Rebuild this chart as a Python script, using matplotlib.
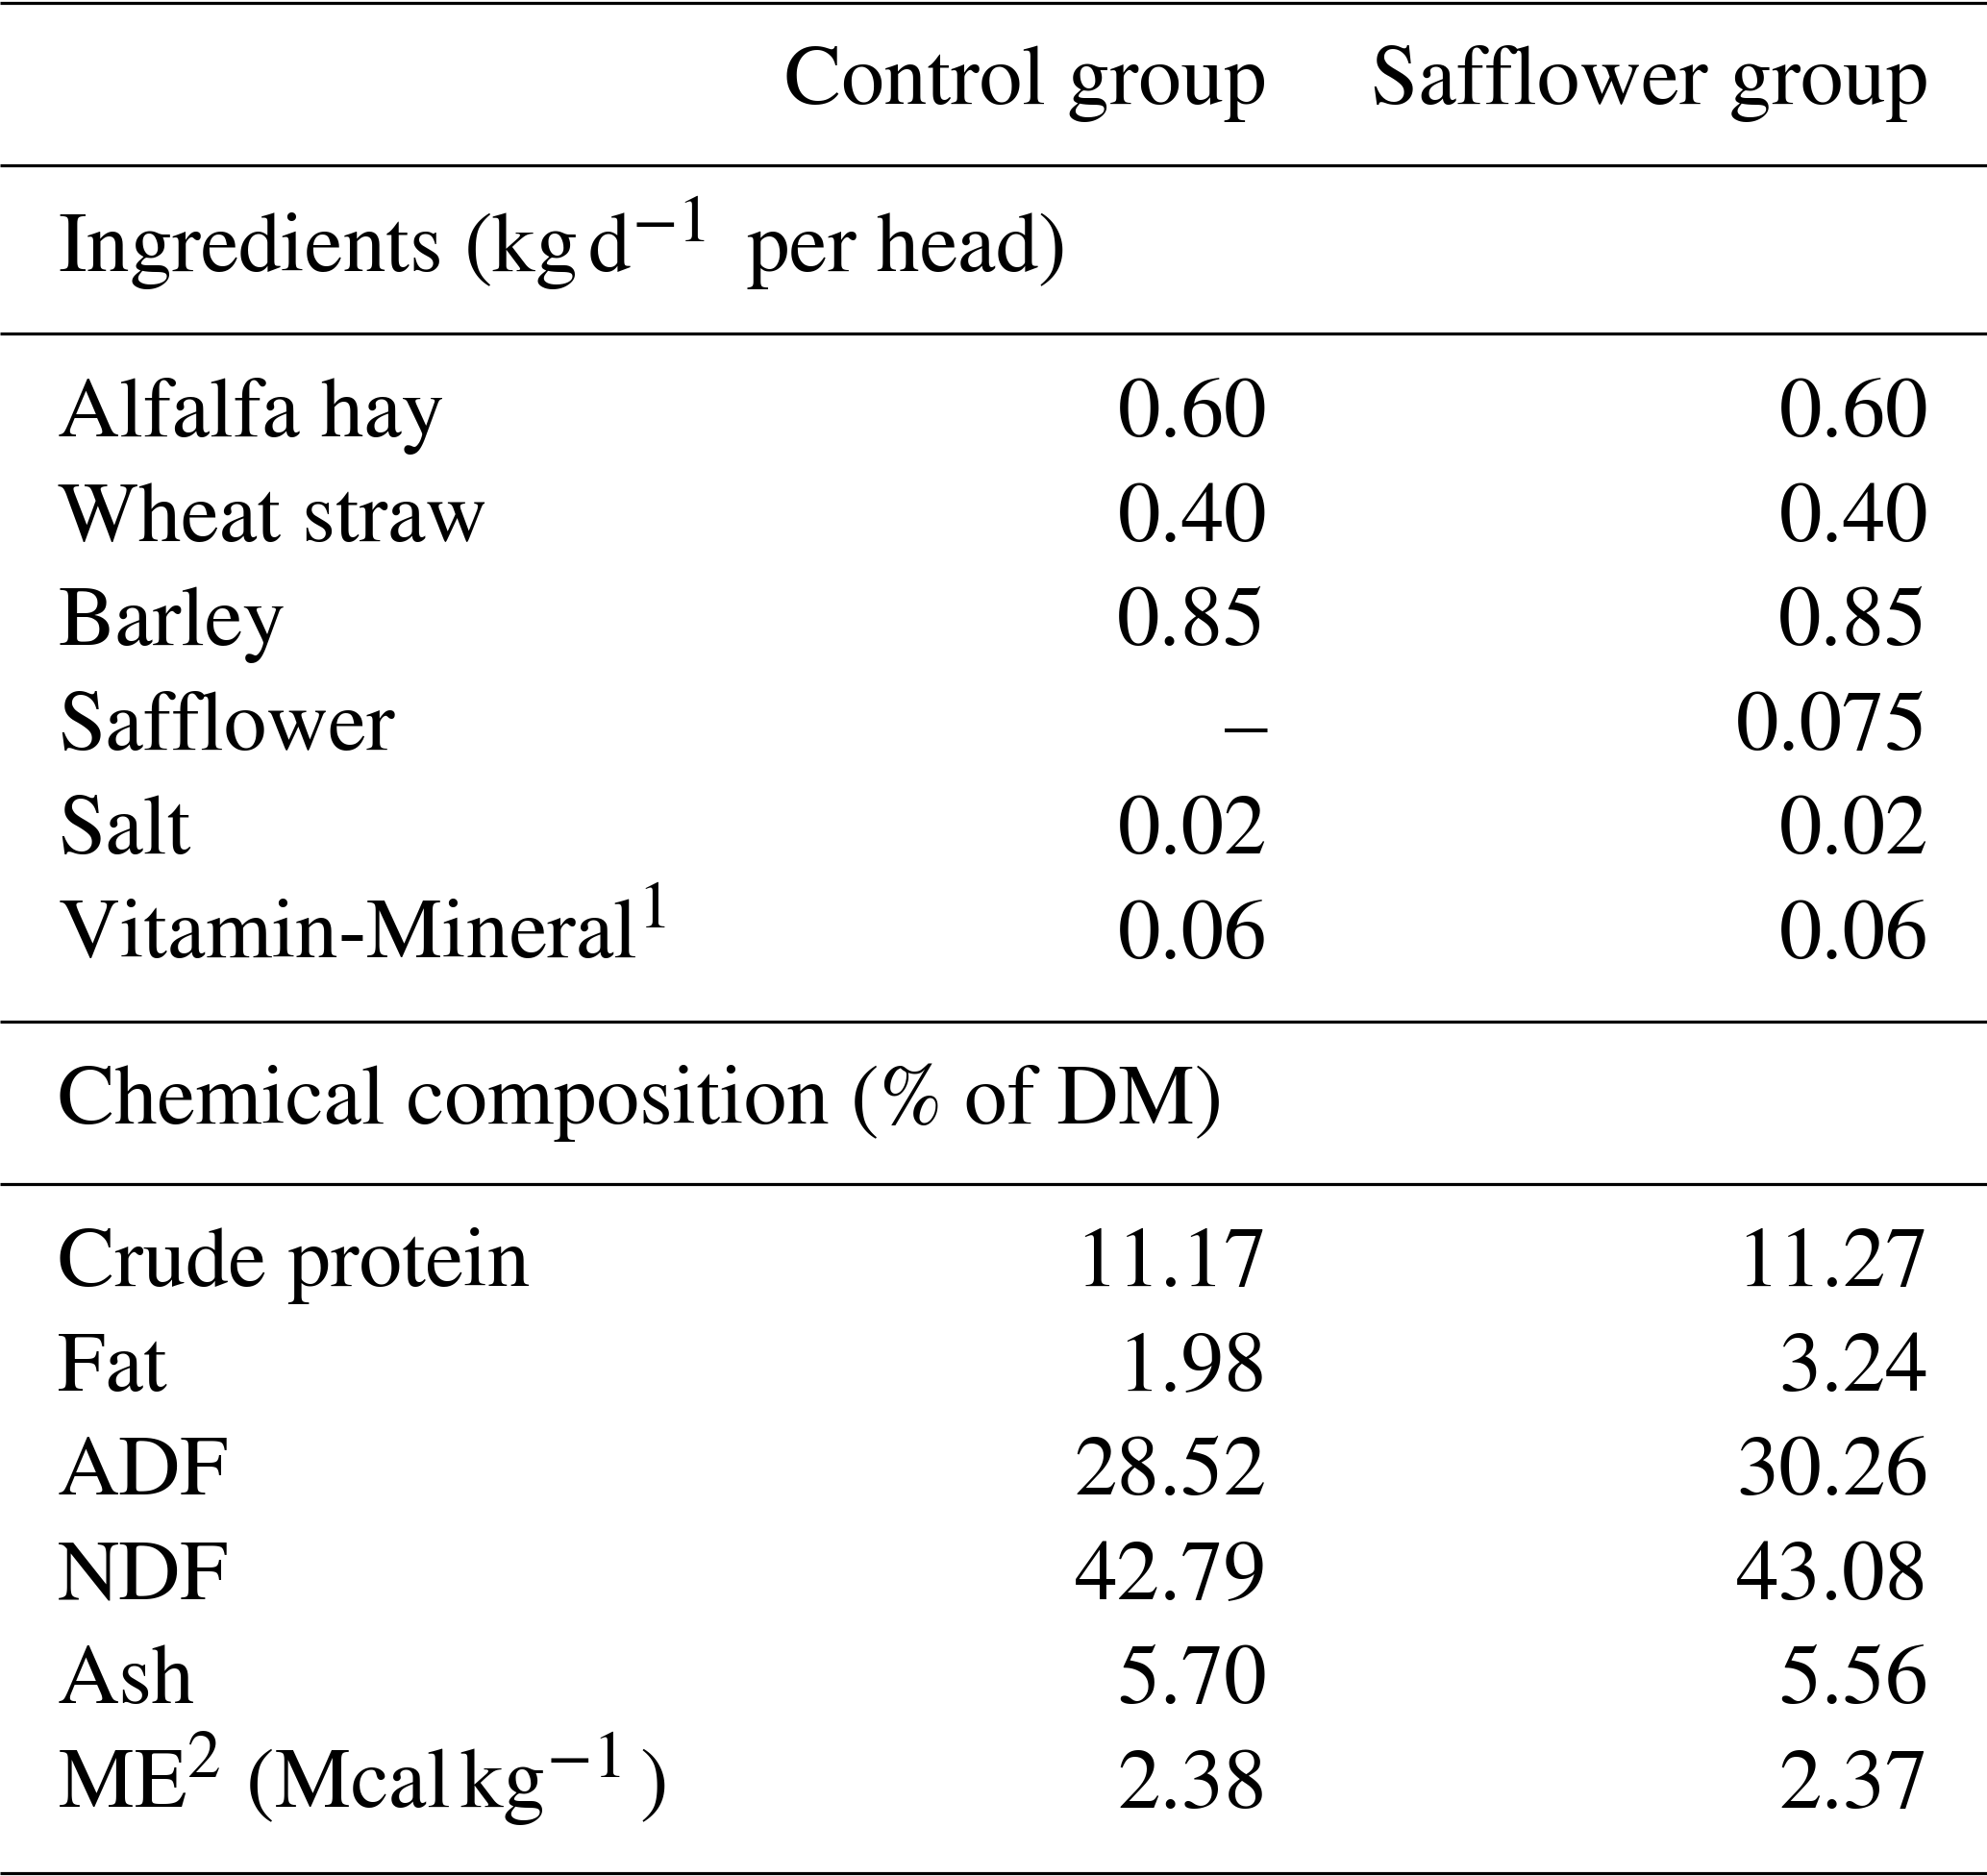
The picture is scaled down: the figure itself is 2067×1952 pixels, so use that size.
import matplotlib
matplotlib.use("Agg")
import matplotlib.pyplot as plt
import matplotlib._mathtext as _mt

# LaTeX-like larger scripts
_mt.SHRINK_FACTOR = 0.78

plt.rcParams['font.family'] = ['STIXGeneral', 'DejaVu Serif']
plt.rcParams['mathtext.fontset'] = 'stix'

# ---- data ----
col_headers = ["Control group", "Safflower group"]
section1_title = r"Ingredients (kg$\,$d$^{-1}\,$ per head)"
ingredients = ["Alfalfa hay", "Wheat straw", "Barley", "Safflower", "Salt",
               r"Vitamin-Mineral$^{1}$"]
ing_control = ["0.60", "0.40", "0.85", "\u2013", "0.02", "0.06"]
ing_safflower = ["0.60", "0.40", "0.85", "0.075", "0.02", "0.06"]
section2_title = "Chemical composition (% of DM)"
chem = ["Crude protein", "Fat", "ADF", "NDF", "Ash",
        r"ME$^{2}$ (Mcal$\,$kg$^{-1}\,$)"]
chem_control = ["11.17", "1.98", "28.52", "42.79", "5.70", "2.38"]
chem_safflower = ["11.27", "3.24", "30.26", "43.08", "5.56", "2.37"]

# ---- layout ----
W, H = 2067, 1952
fig = plt.figure(figsize=(W / 100, H / 100), dpi=100)
ax = fig.add_axes([0, 0, 1, 1])
ax.set_xlim(0, W)
ax.set_ylim(H, 0)
ax.axis('off')

fs = 64
x_left = 60
x_c1 = 1318
x_c2 = 2006
step = 108.6

def rule(y):
    ax.plot([0, W], [y, y], color='black', lw=2.3, solid_capstyle='butt')

rule(2.5)
rule(172)
rule(347)
rule(1063)
rule(1232)
rule(1949)

ax.text(x_c1, 108, col_headers[0], ha='right', va='baseline', fontsize=fs)
ax.text(x_c2, 108, col_headers[1], ha='right', va='baseline', fontsize=fs)

ax.text(x_left, 283, section1_title, ha='left', va='baseline', fontsize=fs)
for i, (lab, a, b) in enumerate(zip(ingredients, ing_control, ing_safflower)):
    y = 454 + i * step
    ax.text(x_left, y, lab, ha='left', va='baseline', fontsize=fs)
    ax.text(x_c1, y, a, ha='right', va='baseline', fontsize=fs)
    ax.text(x_c2, y, b, ha='right', va='baseline', fontsize=fs)

ax.text(x_left, 1169, section2_title, ha='left', va='baseline', fontsize=fs)
for i, (lab, a, b) in enumerate(zip(chem, chem_control, chem_safflower)):
    y = 1338 + i * step
    ax.text(x_left, y, lab, ha='left', va='baseline', fontsize=fs)
    ax.text(x_c1, y, a, ha='right', va='baseline', fontsize=fs)
    ax.text(x_c2, y, b, ha='right', va='baseline', fontsize=fs)

fig.savefig("out.png", dpi=100)
